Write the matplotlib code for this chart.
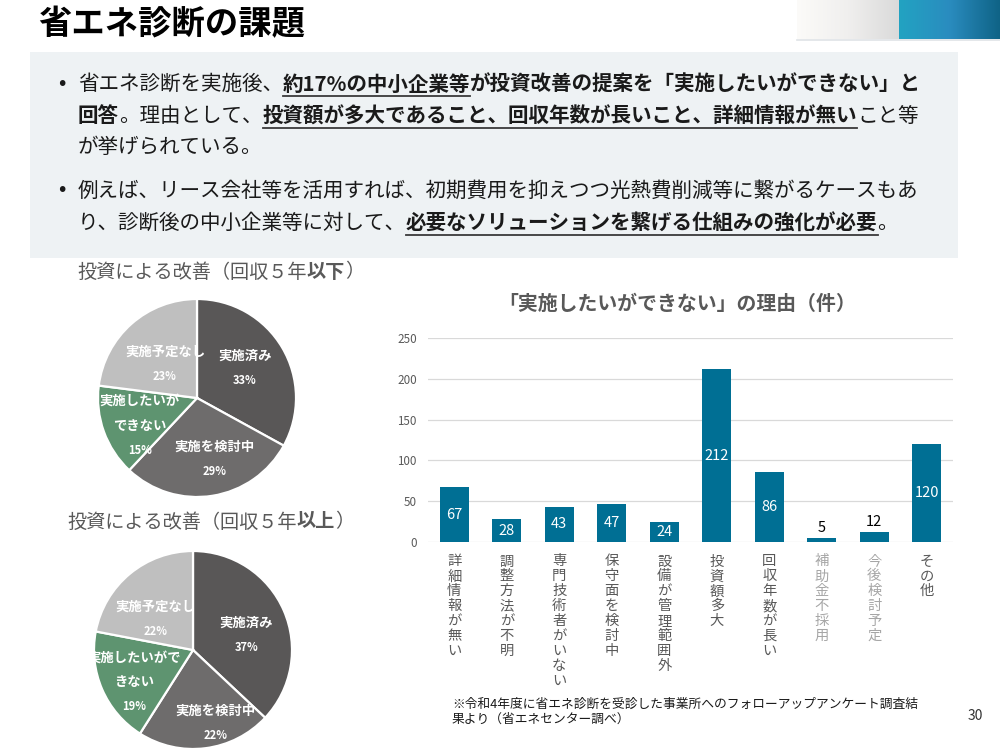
import matplotlib
matplotlib.use("Agg")
import matplotlib.pyplot as plt
import numpy as np
from matplotlib.patches import Rectangle
from matplotlib.colors import LinearSegmentedColormap

plt.rcParams['font.family'] = ['Noto Sans CJK JP', 'DejaVu Sans']

# ---------------- data ----------------
title = "省エネ診断の課題"
pie_categories = ["実施済み", "実施を検討中", "実施したいが\nできない", "実施予定なし"]
pie_categories2 = ["実施済み", "実施を検討中", "実施したいがで\nきない", "実施予定なし"]
pie1_values = [33, 29, 15, 23]
pie2_values = [37, 22, 19, 22]
reasons = ["詳細情報が無い", "調整方法が不明", "専門技術者がいない", "保守面を検討中",
           "設備が管理範囲外", "投資額多大", "回収年数が長い", "補助金不採用",
           "今後検討予定", "その他"]
counts = [67, 28, 43, 47, 24, 212, 86, 5, 12, 120]
y_ticks = [0, 50, 100, 150, 200, 250]
bar_title = "「実施したいができない」の理由（件）"
footnote = "※令和4年度に省エネ診断を受診した事業所へのフォローアップアンケート調査結\n果より（省エネセンター調べ）"
page_no = "30"

# ---------------- styles ----------------
W, H = 1000, 750
GRAY_TXT = "#595959"
BAR_COLOR = "#006f94"
PIE_COLORS = ["#595757", "#6e6c6c", "#5e9470", "#bfbfbf"]
TICK_COLORS = ["#595959"] * 7 + ["#a6a6a6", "#a6a6a6", "#595959"]

fig = plt.figure(figsize=(10, 7.5), dpi=100)
renderer = fig.canvas.get_renderer()


def make_overlay(z):
    a = fig.add_axes([0, 0, 1, 1], zorder=z)
    a.set_xlim(0, W)
    a.set_ylim(H, 0)
    a.axis("off")
    a.patch.set_alpha(0)
    return a


# overlay axes in pixel coordinates (top-left origin)
ov = make_overlay(0)
top = make_overlay(10)


def px_axes(x0, y0, x1, y1, z=2):
    return fig.add_axes([x0 / W, 1 - y1 / H, (x1 - x0) / W, (y1 - y0) / H], zorder=z)


# header gradient
g = np.linspace(0, 1, 256).reshape(1, -1)
gray_cmap = LinearSegmentedColormap.from_list("g", ["#fcfbf9", "#f0efee", "#dadada"])
blue_cmap = LinearSegmentedColormap.from_list("b", ["#22a3c2", "#2a8cbf", "#0f6386"])
ov.imshow(g, cmap=gray_cmap, extent=(797, 899, 39, 0), aspect="auto", zorder=1)
ov.imshow(g, cmap=blue_cmap, extent=(899, 1000, 39, 0), aspect="auto", zorder=1)
ov.plot([797, 1000], [39.5, 39.5], color="#dfe3e6", lw=1.2, zorder=1)
ov.set_xlim(0, W)
ov.set_ylim(H, 0)

# title
ov.text(38, 25, title, fontsize=24, fontweight="bold", color="black", va="center", ha="left")

# text box
ov.add_patch(Rectangle((30, 52), 928, 206, facecolor="#eef2f4", edgecolor="none", zorder=0))


def draw_segments(x, y, segments, size, color="#1a1a1a", ul_off=12):
    for text, bold, underline in segments:
        t = ov.text(x, y, text, fontsize=size, fontweight="bold" if bold else "normal",
                    color=color, va="center", ha="left", zorder=3)
        bb = t.get_window_extent(renderer)
        w = bb.width
        if underline:
            ov.plot([x, x + w], [y + ul_off, y + ul_off], color="#3a3a3a", lw=1.3, zorder=3)
        x += w
    return x


FS = 14.8
ov.text(62, 84, "•", fontsize=14, color="#1a1a1a", va="center", ha="center", family="DejaVu Sans")
draw_segments(78, 84, [("省エネ診断を実施後、", False, False),
                       ("約17%の中小企業等", True, True),
                       ("が投資改善の提案を「実施したいができない」と", True, False)], FS)
draw_segments(78, 116, [("回答", True, False),
                        ("。理由として、", False, False),
                        ("投資額が多大であること、回収年数が長いこと、詳細情報が無い", True, True),
                        ("こと等", False, False)], FS)
draw_segments(78, 147, [("が挙げられている。", False, False)], FS)
ov.text(62, 191, "•", fontsize=14, color="#1a1a1a", va="center", ha="center", family="DejaVu Sans")
draw_segments(78, 191, [("例えば、リース会社等を活用すれば、初期費用を抑えつつ光熱費削減等に繋がるケースもあ", False, False)], FS)
draw_segments(78, 223, [("り、診断後の中小企業等に対して、", False, False),
                        ("必要なソリューションを繋げる仕組みの強化が必要", True, True),
                        ("。", False, False)], FS)

# pie titles
draw_segments(77, 272, [("投資による改善（回収５年", False, False), ("以下", True, False), ("）", False, False)],
              13.8, color=GRAY_TXT)
draw_segments(67, 522, [("投資による改善（回収５年", False, False), ("以上", True, False), ("）", False, False)],
              13.8, color=GRAY_TXT)


def draw_pie(cx, cy, r, values, labels, label_pos):
    ax = px_axes(cx - r, cy - r, cx + r, cy + r)
    wedges, _ = ax.pie(values, startangle=90, counterclock=False, colors=PIE_COLORS,
                       wedgeprops=dict(edgecolor="white", linewidth=1.6), radius=1)
    ax.set_xlim(-1, 1)
    ax.set_ylim(-1, 1)
    ax.set_aspect("auto")
    ax.axis("off")
    for w, lab, v, (d, da) in zip(wedges, labels, values, label_pos):
        ang = np.deg2rad((w.theta1 + w.theta2) / 2 + da)
        lx = cx + d * r * np.cos(ang)
        ly = cy - d * r * np.sin(ang)
        lines = lab.split("\n")
        n = len(lines) + 1
        step = 24.5
        y0 = ly - step * (n - 1) / 2
        for i, ln in enumerate(lines):
            top.text(lx, y0 + i * step, ln, fontsize=9.6, fontweight="bold", color="white",
                     ha="center", va="center", zorder=5)
        top.text(lx, y0 + (n - 1) * step, f"{v}%", fontsize=8, fontweight="bold", color="white",
                 ha="center", va="center", zorder=5)


draw_pie(197, 398, 99, pie1_values, pie_categories,
         [(0.57, 1.5), (0.64, 7.5), (0.64, 6), (0.47, 2)])
draw_pie(193, 650, 99, pie2_values, pie_categories2,
         [(0.56, -7.5), (0.77, 10), (0.68, 5), (0.49, 11)])

# bar chart
ov.text(677, 304, bar_title, fontsize=14.3, fontweight="bold", color=GRAY_TXT, ha="center", va="center")
axb = px_axes(428, 338, 953, 542)
x = np.arange(len(counts))
bars = axb.bar(x, counts, width=0.56, color=BAR_COLOR, zorder=3)
axb.set_xlim(-0.5, len(counts) - 0.5)
axb.set_ylim(0, 250)
axb.set_yticks(y_ticks)
axb.grid(axis="y", color="#d9d9d9", lw=0.9, zorder=0)
axb.set_axisbelow(True)
for s in axb.spines.values():
    s.set_visible(False)
axb.patch.set_alpha(0)
axb.tick_params(axis="y", length=0, labelsize=8.4, labelcolor=GRAY_TXT, pad=8)
axb.tick_params(axis="x", length=0, pad=9)
axb.set_xticks(x)
axb.set_xticklabels(["\n".join(r) for r in reasons], fontsize=10.3, va="top", linespacing=1.08)
for lbl, c in zip(axb.get_xticklabels(), TICK_COLORS):
    lbl.set_color(c)

for xi, v in zip(x, counts):
    if v >= 20:
        axb.text(xi, v / 2, str(v), color="white", fontsize=10.5, ha="center", va="center", zorder=4)
    else:
        axb.annotate(str(v), (xi, v), xytext=(0, 2), textcoords="offset points",
                     color="black", fontsize=10.5, ha="center", va="bottom", zorder=4)

# footnote & page no
ov.text(452, 712, footnote, fontsize=9.2, color="#1a1a1a", ha="left", va="center", linespacing=1.2)
ov.text(975, 716, page_no, fontsize=10, color="#333333", ha="center", va="center")

fig.savefig("out.png", dpi=100)
